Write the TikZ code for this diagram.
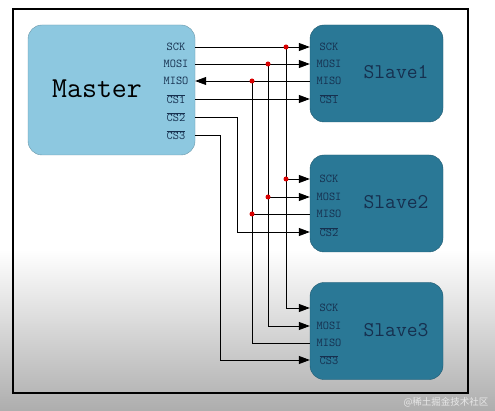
\documentclass[tikz,border=0pt]{standalone}
\usepackage{fontspec}
\usepackage{tikz}
\usetikzlibrary{arrows.meta}
\newfontfamily\cjk{Noto Sans CJK SC}

\definecolor{masterblue}{HTML}{8DC8E0}
\definecolor{slaveteal}{HTML}{2A7896}
\definecolor{pinink}{HTML}{16304F}

\tikzset{
  master/.style={draw=masterblue!75!black, fill=masterblue, rounded corners=14pt,
    minimum width=167pt, minimum height=130pt, inner sep=0pt},
  slave/.style={draw=slaveteal!75!black, fill=slaveteal, rounded corners=14pt,
    minimum width=133pt, minimum height=97pt, inner sep=0pt},
  pin/.style={text=pinink, font=\ttfamily\fontsize{12}{12}\selectfont, inner sep=0pt},
  wire/.style={line width=0.8pt, black},
  tip/.style={-{Triangle[length=11pt,width=8pt]}},
  joint/.style={circle, fill=red!85!black, inner sep=0pt, minimum size=5pt}
}
\newcommand{\ncs}[1]{$\overline{\mbox{CS#1}}$}

\begin{document}
\begin{tikzpicture}[x=1pt, y=-1pt]
    % Background and frame
    \useasboundingbox (0,0) rectangle (495,411);
    \fill[white] (0,0) rectangle (495,250);
    \shade[top color=white, bottom color=black!32] (0,250) rectangle (495,411);
    \draw[line width=1.8pt] (13,9) rectangle (468,393);

    % Master
    \node[master] (M) at (111.5,90) {};
    \node[font=\ttfamily\fontsize{29}{29}\selectfont] (mlabel) at (97,89) {Master};
    \foreach \name/\txt/\y in {sck/SCK/47, mosi/MOSI/64, miso/MISO/81,
                               cs1/\ncs1/99, cs2/\ncs2/117, cs3/\ncs3/135}
        \node[pin] (m-\name) at (176,\y) {\txt};

    % Slaves
    \foreach \i/\y in {1/73.5, 2/203.5, 3/331} {
        \node[slave] (S\i) at (376.5,\y) {};
        \node[font=\ttfamily\fontsize{21}{21}\selectfont, text=pinink] (slabel\i) at (396,\y-1) {Slave\i};
    }
    \foreach \i/\a/\b/\c/\d in {1/47/64/81/99, 2/179/197/214/232, 3/308/326/343/360} {
        \node[pin] (s\i-sck) at (329,\a) {SCK};
        \node[pin] (s\i-mosi) at (329,\b) {MOSI};
        \node[pin] (s\i-miso) at (329,\c) {MISO};
        \node[pin] (s\i-cs) at (329,\d) {\ncs\i};
    }

    % Bus columns
    \coordinate (bus-sck) at (286,0);
    \coordinate (bus-mosi) at (268,0);
    \coordinate (bus-miso) at (252,0);
    \coordinate (bus-cs2) at (237,0);
    \coordinate (bus-cs3) at (220,0);

    % Slave1
    \draw[wire,tip] (M.east |- m-sck) -- (S1.west |- s1-sck);
    \draw[wire,tip] (M.east |- m-mosi) -- (S1.west |- s1-mosi);
    \draw[wire,tip] (S1.west |- s1-miso) -- (M.east |- m-miso);
    \draw[wire,tip] (M.east |- m-cs1) -- (S1.west |- s1-cs);

    % Shared lines down to Slave3
    \draw[wire,tip] (bus-sck |- m-sck) |- (S3.west |- s3-sck);
    \draw[wire,tip] (bus-mosi |- m-mosi) |- (S3.west |- s3-mosi);
    \draw[wire] (bus-miso |- m-miso) |- (S3.west |- s3-miso);

    % Slave2 branches
    \draw[wire,tip] (bus-sck |- s2-sck) -- (S2.west |- s2-sck);
    \draw[wire,tip] (bus-mosi |- s2-mosi) -- (S2.west |- s2-mosi);
    \draw[wire] (bus-miso |- s2-miso) -- (S2.west |- s2-miso);

    % Chip selects
    \draw[wire,tip] (M.east |- m-cs2) -| (bus-cs2 |- s2-cs) -- (S2.west |- s2-cs);
    \draw[wire,tip] (M.east |- m-cs3) -| (bus-cs3 |- s3-cs) -- (S3.west |- s3-cs);

    % Junctions
    \foreach \b/\p in {sck/m-sck, mosi/m-mosi, miso/m-miso, sck/s2-sck, mosi/s2-mosi, miso/s2-miso}
        \node[joint] at (bus-\b |- \p) {};

    \node[text=white!82!gray, font=\cjk\fontsize{9.5}{9.5}\selectfont] (mark) at (446,402) {@稀土掘金技术社区};
\end{tikzpicture}
\end{document}
